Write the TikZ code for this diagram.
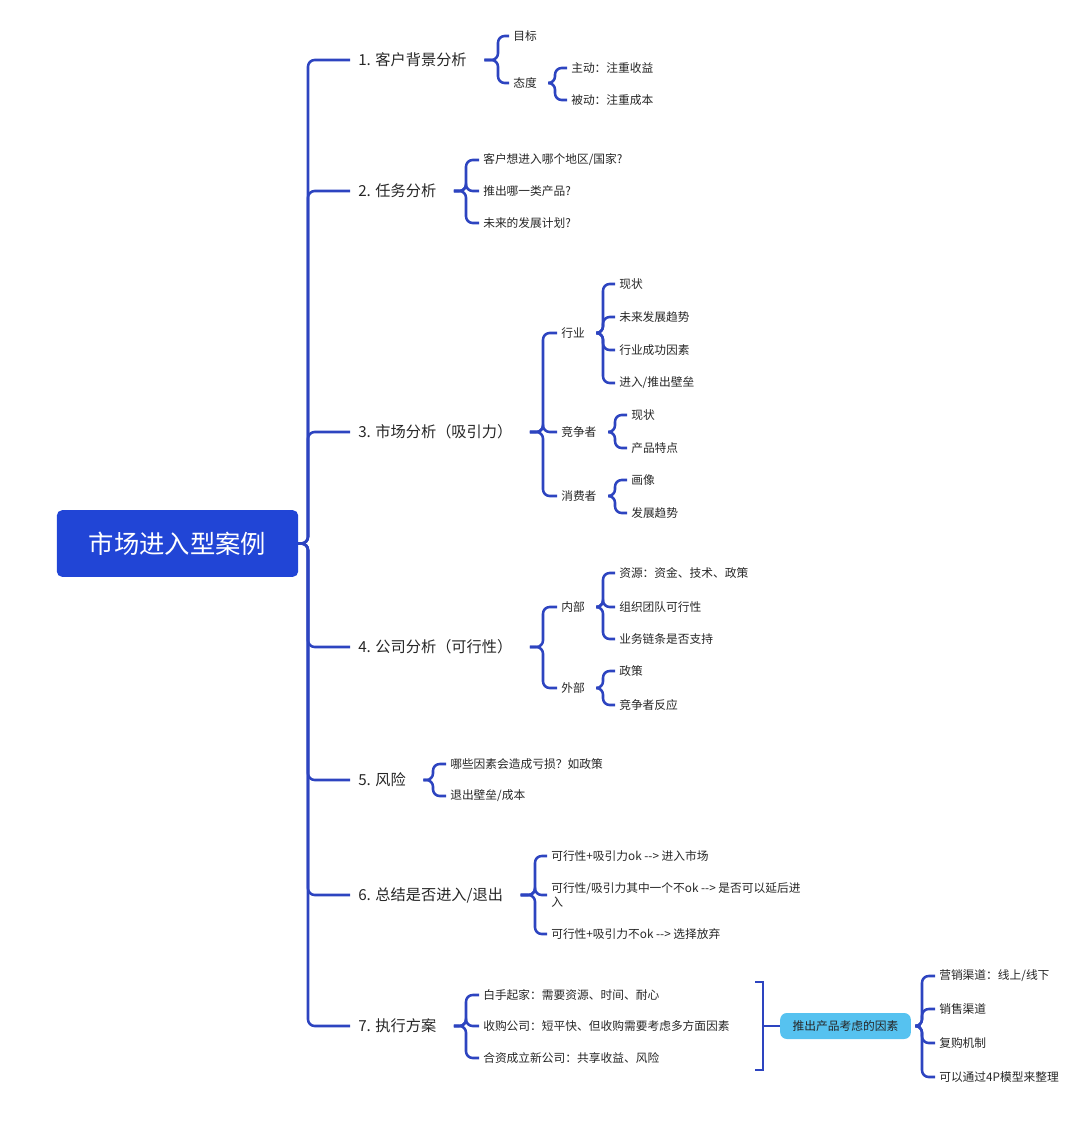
\documentclass[tikz,border=0pt]{standalone}
\usepackage{fontspec}
\setmainfont{Noto Sans CJK SC}
\definecolor{ln}{HTML}{2D44C0}
\definecolor{rootc}{HTML}{2145D6}
\definecolor{boxc}{HTML}{56C2F0}
\newcommand\arw{-\kern0pt-\kern0pt>}
\newcommand\cn[3]{\path (#2,0) coordinate (tmps); \draw[br] ([xshift=7pt]#1.east) -- (#1.east -| tmps) |- (#3.west);}
\newcommand\cnr[3]{\path (#2,0) coordinate (tmps); \draw[br] (#1.east) -- (#1.east -| tmps) |- (#3.west);}
\begin{document}
\begin{tikzpicture}[x=0.75pt,y=-0.75pt,
 br/.style={draw=ln,line width=1.9pt,rounded corners=5pt},
 t/.style={anchor=west,inner xsep=3pt,inner ysep=1pt,font=\fontsize{8.8pt}{10pt}\selectfont,text=black!85},
 h/.style={anchor=west,inner xsep=6pt,inner ysep=1pt,font=\fontsize{11.4pt}{13pt}\selectfont,text=black!85}]
\useasboundingbox (0,0) rectangle (1080,1127);
\node[fill=rootc,rounded corners=4pt,minimum width=181pt,minimum height=50pt,text=white,font=\fontsize{19pt}{22pt}\selectfont,inner sep=0pt] (root) at (177.5,543.5) {市场进入型案例};
% level 1
\node[h] (a1) at (350,60) {1. 客户背景分析};
\node[h] (a2) at (350,191) {2. 任务分析};
\node[h] (a3) at (350,432) {3. 市场分析（吸引力）};
\node[h] (a4) at (350,647) {4. 公司分析（可行性）};
\node[h] (a5) at (350,780) {5. 风险};
\node[h] (a6) at (350,895) {6. 总结是否进入/退出};
\node[h] (a7) at (350,1026) {7. 执行方案};
\foreach \i in {1,...,7}{\cnr{root}{308}{a\i}}
% group 1
\node[t] (b11) at (509,36) {目标};
\node[t] (b12) at (509,83) {态度};
\node[t] (c1) at (567,68) {主动：注重收益};
\node[t] (c2) at (567,100) {被动：注重成本};
\cn{a1}{498}{b11}\cn{a1}{498}{b12}
\cn{b12}{555}{c1}\cn{b12}{555}{c2}
% group 2
\node[t] (b21) at (479,160) {客户想进入哪个地区/国家?};
\node[t] (b22) at (479,191) {推出哪一类产品?};
\node[t] (b23) at (479,223) {未来的发展计划?};
\foreach \i in {1,2,3}{\cn{a2}{466}{b2\i}}
% group 3
\node[t] (b31) at (557,333) {行业};
\node[t] (b32) at (557,432) {竞争者};
\node[t] (b33) at (557,496) {消费者};
\foreach \i in {1,2,3}{\cn{a3}{543}{b3\i}}
\node[t] (d1) at (615,284) {现状};
\node[t] (d2) at (615,317) {未来发展趋势};
\node[t] (d3) at (615,350) {行业成功因素};
\node[t] (d4) at (615,383) {进入/推出壁垒};
\foreach \i in {1,...,4}{\cn{b31}{603}{d\i}}
\node[t] (e1) at (627,415) {现状};
\node[t] (e2) at (627,448) {产品特点};
\cn{b32}{615}{e1}\cn{b32}{615}{e2}
\node[t] (f1) at (627,480) {画像};
\node[t] (f2) at (627,513) {发展趋势};
\cn{b33}{615}{f1}\cn{b33}{615}{f2}
% group 4
\node[t] (b41) at (557,607) {内部};
\node[t] (b42) at (557,688) {外部};
\cn{a4}{543}{b41}\cn{a4}{543}{b42}
\node[t] (g1) at (615,573) {资源：资金、技术、政策};
\node[t] (g2) at (615,607) {组织团队可行性};
\node[t] (g3) at (615,639) {业务链条是否支持};
\foreach \i in {1,2,3}{\cn{b41}{603}{g\i}}
\node[t] (k1) at (615,671) {政策};
\node[t] (k2) at (615,705) {竞争者反应};
\cn{b42}{603}{k1}\cn{b42}{603}{k2}
% group 5
\node[t] (b51) at (446,764) {哪些因素会造成亏损？如政策};
\node[t] (b52) at (446,796) {退出壁垒/成本};
\cn{a5}{433}{b51}\cn{a5}{433}{b52}
% group 6
\node[t] (b61) at (547,856) {可行性+吸引力ok \arw{} 进入市场};
\node[t,align=left] (b62) at (547,895) {可行性/吸引力其中一个不ok \arw{} 是否可以延后进\\入};
\node[t] (b63) at (547,934) {可行性+吸引力不ok \arw{} 选择放弃};
\foreach \i in {1,2,3}{\cn{a6}{535}{b6\i}}
% group 7
\node[t] (b71) at (479,995) {白手起家：需要资源、时间、耐心};
\node[t] (b72) at (479,1026) {收购公司：短平快、但收购需要考虑多方面因素};
\node[t] (b73) at (479,1058) {合资成立新公司：共享收益、风险};
\foreach \i in {1,2,3}{\cn{a7}{466}{b7\i}}
\node[fill=boxc,rounded corners=5pt,minimum width=98pt,minimum height=19.5pt,inner sep=0pt,font=\fontsize{8.8pt}{10pt}\selectfont,text=black!85] (p) at (845.5,1026) {推出产品考虑的因素};
\coordinate (bt) at (763,982); \coordinate (bb) at (763,1070); \coordinate (bm) at (763,1026);
\draw[draw=ln,line width=1.9pt] (755,982) -- (bt) -- (bb) -- (755,1070);
\draw[draw=ln,line width=1.9pt] (bm) -- (p.west);
\node[t] (q1) at (935,976) {营销渠道：线上/线下};
\node[t] (q2) at (935,1009) {销售渠道};
\node[t] (q3) at (935,1043) {复购机制};
\node[t] (q4) at (935,1077) {可以通过4P模型来整理};
\foreach \i in {1,...,4}{\cn{p}{922}{q\i}}
\end{tikzpicture}
\end{document}
